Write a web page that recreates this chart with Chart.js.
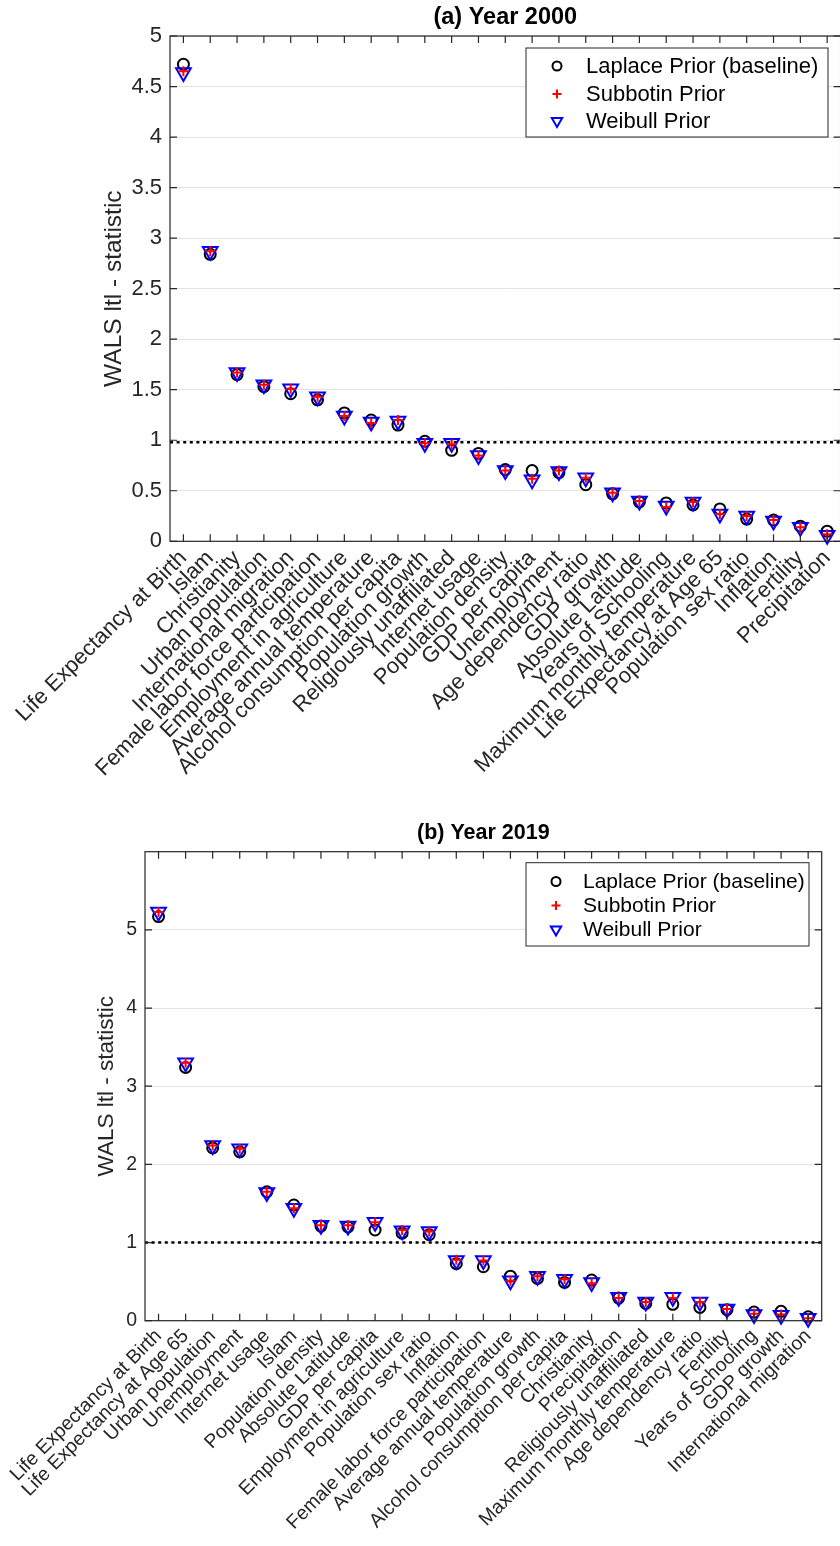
<!DOCTYPE html>
<html>
<head>
<meta charset="utf-8">
<script src="https://cdn.jsdelivr.net/npm/chart.js@4.4.1/dist/chart.umd.min.js"></script>
<style>
  html, body { margin: 0; padding: 0; background: #fff; overflow: hidden; width: 840px; height: 1546px; }
  canvas { position: absolute; left: 0; }
  #c2000 { top: 0; }
  #c2019 { top: 800px; }
</style>
</head>
<body>
<canvas id="c2000" width="850" height="800"></canvas>
<canvas id="c2019" width="850" height="746"></canvas>
<script>
// ---- data ----
const seriesNames = ['Laplace Prior (baseline)', 'Subbotin Prior', 'Weibull Prior'];

const labels2000 = [
  'Life Expectancy at Birth', 'Islam', 'Christianity', 'Urban population',
  'International migration', 'Female labor force participation', 'Employment in agriculture',
  'Average annual temperature', 'Alcohol consumption per capita', 'Population growth',
  'Religiously unaffiliated', 'Internet usage', 'Population density', 'GDP per capita',
  'Unemployment', 'Age dependency ratio', 'GDP growth', 'Absolute Latitude',
  'Years of Schooling', 'Maximum monthly temperature', 'Life Expectancy at Age 65',
  'Population sex ratio', 'Inflation', 'Fertility', 'Precipitation'
];
const laplace2000 = [4.72, 2.84, 1.65, 1.53, 1.46, 1.40, 1.27, 1.20, 1.15, 0.99, 0.90, 0.87, 0.71,
  0.70, 0.68, 0.56, 0.47, 0.39, 0.38, 0.36, 0.32, 0.22, 0.21, 0.15, 0.10];
const subbotin2000 = [4.65, 2.87, 1.67, 1.55, 1.51, 1.43, 1.24, 1.17, 1.20, 0.97, 0.96, 0.85, 0.70,
  0.62, 0.70, 0.63, 0.48, 0.40, 0.34, 0.39, 0.27, 0.25, 0.21, 0.14, 0.07];
const weibull2000 = [4.64, 2.87, 1.67, 1.55, 1.51, 1.43, 1.24, 1.18, 1.19, 0.97, 0.97, 0.85, 0.70,
  0.61, 0.69, 0.63, 0.48, 0.40, 0.35, 0.39, 0.27, 0.25, 0.20, 0.14, 0.06];
const yTicks2000 = [0, 0.5, 1, 1.5, 2, 2.5, 3, 3.5, 4, 4.5, 5];
const threshold2000 = 0.98;

const labels2019 = [
  'Life Expectancy at Birth', 'Life Expectancy at Age 65', 'Urban population', 'Unemployment',
  'Internet usage', 'Islam', 'Population density', 'Absolute Latitude', 'GDP per capita',
  'Employment in agriculture', 'Population sex ratio', 'Inflation',
  'Female labor force participation', 'Average annual temperature', 'Population growth',
  'Alcohol consumption per capita', 'Christianity', 'Precipitation', 'Religiously unaffiliated',
  'Maximum monthly temperature', 'Age dependency ratio', 'Fertility', 'Years of Schooling',
  'GDP growth', 'International migration'
];
const laplace2019 = [5.17, 3.24, 2.21, 2.16, 1.65, 1.48, 1.21, 1.20, 1.16, 1.12, 1.10, 0.73, 0.69,
  0.57, 0.54, 0.49, 0.52, 0.29, 0.22, 0.21, 0.17, 0.14, 0.11, 0.12, 0.05];
const subbotin2019 = [5.23, 3.30, 2.24, 2.20, 1.65, 1.44, 1.22, 1.22, 1.26, 1.16, 1.14, 0.78, 0.77,
  0.51, 0.57, 0.53, 0.48, 0.29, 0.24, 0.29, 0.24, 0.15, 0.09, 0.08, 0.03];
const weibull2019 = [5.23, 3.30, 2.24, 2.20, 1.64, 1.44, 1.22, 1.21, 1.26, 1.15, 1.14, 0.77, 0.77,
  0.51, 0.57, 0.53, 0.49, 0.30, 0.24, 0.30, 0.24, 0.15, 0.08, 0.07, 0.03];
const yTicks2019 = [0, 1, 2, 3, 4, 5];
const threshold2019 = 1;

// ---- styling ----
const FONT = '"Liberation Sans", Arial, Helvetica, sans-serif';
Chart.defaults.font.family = FONT;

const markers = [
  { pointStyle: 'circle', color: '#000000', radius: 5.5, legendRadius: 4.5, rotation: 0, order: 3 },
  { pointStyle: 'cross', color: '#ff0000', radius: 5, legendRadius: 4.5, rotation: 0, order: 1 },
  { pointStyle: 'triangle', color: '#0000ff', radius: 8.5, legendRadius: 6, rotation: 180, order: 2 }
];

// MATLAB-like box, inward ticks, title, y label and legend
const framePlugin = {
  id: 'frame',
  afterDraw(chart, args, opts) {
    const { ctx, chartArea: a, scales: { x, y } } = chart;
    ctx.save();

    // axes box + inward tick marks
    ctx.strokeStyle = '#262626';
    ctx.lineWidth = 1.2;
    ctx.strokeRect(a.left, a.top, a.right - a.left, a.bottom - a.top);
    ctx.beginPath();
    x.ticks.forEach(t => {
      const px = x.getPixelForValue(t.value);
      ctx.moveTo(px, a.bottom); ctx.lineTo(px, a.bottom - 7);
      ctx.moveTo(px, a.top); ctx.lineTo(px, a.top + 7);
    });
    y.ticks.forEach(t => {
      const py = y.getPixelForValue(t.value);
      ctx.moveTo(a.left, py); ctx.lineTo(a.left + 7, py);
      ctx.moveTo(a.right, py); ctx.lineTo(a.right - 7, py);
    });
    ctx.stroke();

    // title
    ctx.fillStyle = '#000';
    ctx.textAlign = 'center';
    ctx.textBaseline = 'middle';
    ctx.font = 'bold ' + opts.titleSize + 'px ' + FONT;
    ctx.fillText(opts.title, (a.left + a.right) / 2, opts.titleY);

    // y label
    ctx.save();
    ctx.translate(opts.ylabelX, (a.top + a.bottom) / 2);
    ctx.rotate(-Math.PI / 2);
    ctx.fillStyle = '#262626';
    ctx.font = opts.ylabelSize + 'px ' + FONT;
    ctx.fillText(opts.ylabel, 0, 0);
    ctx.restore();

    // legend
    const lg = opts.legend;
    ctx.fillStyle = '#fff';
    ctx.fillRect(lg.left, lg.top, lg.right - lg.left, lg.bottom - lg.top);
    ctx.strokeStyle = '#262626';
    ctx.lineWidth = 1;
    ctx.strokeRect(lg.left, lg.top, lg.right - lg.left, lg.bottom - lg.top);
    ctx.font = lg.fontSize + 'px ' + FONT;
    ctx.textAlign = 'left';
    markers.forEach((m, k) => {
      ctx.strokeStyle = m.color;
      ctx.fillStyle = 'rgba(0,0,0,0)';
      ctx.lineWidth = 2;
      Chart.helpers.drawPoint(ctx, {
        pointStyle: m.pointStyle, rotation: m.rotation, radius: m.legendRadius, borderWidth: 2
      }, lg.markerX, lg.rows[k]);
      ctx.fillStyle = '#000';
      ctx.fillText(seriesNames[k], lg.textX, lg.rows[k] + 1);
    });
    ctx.restore();
  }
};

function toPoints(vals) {
  return vals.map((v, i) => ({ x: i + 1, y: v }));
}

function makeChart(id, o) {
  const n = o.labels.length;
  const datasets = o.series.map((vals, k) => ({
    label: seriesNames[k],
    data: toPoints(vals),
    showLine: false,
    pointStyle: markers[k].pointStyle,
    pointRotation: markers[k].rotation,
    pointRadius: markers[k].radius,
    pointBorderWidth: 2,
    pointBorderColor: markers[k].color,
    pointBackgroundColor: 'rgba(0,0,0,0)',
    clip: false,
    order: markers[k].order
  }));
  // dotted reference line
  datasets.push({
    label: 'threshold',
    data: [{ x: 0.5, y: o.threshold }, { x: n + 0.5, y: o.threshold }],
    showLine: true,
    borderColor: '#000',
    borderWidth: 2.5,
    borderDash: [3, 3.6],
    pointRadius: 0,
    order: 4
  });

  return new Chart(document.getElementById(id), {
    type: 'scatter',
    data: { datasets },
    options: {
      responsive: false,
      animation: false,
      events: [],
      layout: {
        autoPadding: false,
        padding: { left: o.area.left - 50, top: o.area.top, right: 850 - o.area.right, bottom: 0 }
      },
      scales: {
        x: {
          type: 'linear',
          min: 0.5,
          max: n + 0.5,
          afterBuildTicks: s => { s.ticks = o.labels.map((_, i) => ({ value: i + 1 })); },
          afterFit: s => { s.height = o.canvasH - o.area.bottom; },
          grid: { display: false, drawTicks: false },
          border: { display: false },
          ticks: {
            autoSkip: false, minRotation: 45, maxRotation: 45, padding: 4,
            color: '#262626', font: { size: o.fontSize },
            callback: v => o.labels[v - 1]
          }
        },
        y: {
          min: 0,
          max: o.yMax,
          afterBuildTicks: s => { s.ticks = o.yTicks.map(v => ({ value: v })); },
          afterFit: s => { s.width = 50; },
          grid: { color: '#e3e3e3', lineWidth: 1, drawTicks: false },
          border: { display: false },
          ticks: { padding: 8, color: '#262626', font: { size: o.fontSize }, callback: v => String(v) }
        }
      },
      plugins: {
        legend: { display: false },
        tooltip: { enabled: false },
        frame: o.frame
      }
    },
    plugins: [framePlugin]
  });
}

makeChart('c2000', {
  labels: labels2000,
  series: [laplace2000, subbotin2000, weibull2000],
  yTicks: yTicks2000,
  yMax: 5,
  threshold: threshold2000,
  fontSize: 22,
  canvasH: 800,
  area: { left: 170, top: 36, right: 841.75, bottom: 541.3 },
  frame: {
    title: '(a) Year 2000', titleSize: 23.5, titleY: 18,
    ylabel: 'WALS ltl - statistic', ylabelSize: 24.5, ylabelX: 114,
    legend: { left: 526, top: 48, right: 828, bottom: 137, rows: [66, 94, 121], markerX: 557, textX: 586, fontSize: 22 }
  }
});

makeChart('c2019', {
  labels: labels2019,
  series: [laplace2019, subbotin2019, weibull2019],
  yTicks: yTicks2019,
  yMax: 6,
  threshold: threshold2019,
  fontSize: 19.5,
  canvasH: 746,
  area: { left: 145, top: 51.7, right: 821.7, bottom: 520.7 },
  frame: {
    title: '(b) Year 2019', titleSize: 21.5, titleY: 33,
    ylabel: 'WALS ltl - statistic', ylabelSize: 22.5, ylabelX: 107,
    legend: { left: 526, top: 62.7, right: 809, bottom: 146, rows: [81.5, 105.5, 129.5], markerX: 556, textX: 583, fontSize: 21 }
  }
});
</script>
</body>
</html>
